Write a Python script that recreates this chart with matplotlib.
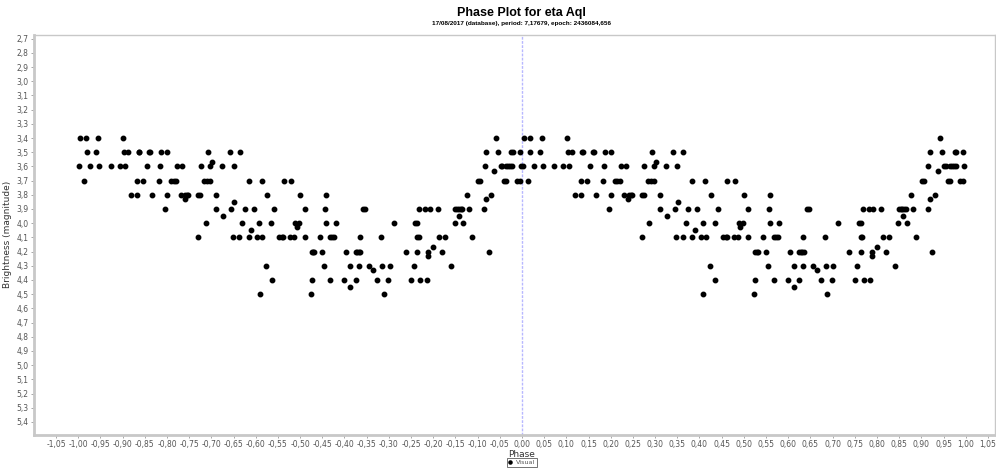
"""
Phase plot for eta Aql (visual observations), folded on the period.
Each observation is drawn twice: at its phase in [-1, 0) and at phase + 1.
"""

import numpy as np
import matplotlib.pyplot as plt
from matplotlib.ticker import FixedLocator, FuncFormatter

TITLE = 'Phase Plot for eta Aql'
SUBTITLE = '17/08/2017 (database), period: 7,17679, epoch: 2436084,656'
SERIES_NAME = 'Visual'

# phases (in [-1, 0)) and magnitudes, grouped by magnitude row
phase_34 = [-0.996, -0.983, -0.956, -0.899, -0.058]
phase_35 = [-0.981, -0.959, -0.896, -0.887, -0.864, -0.862, -0.840, -0.838, -0.813, -0.800,
            -0.707, -0.659, -0.636, -0.080, -0.053, -0.025, -0.021, -0.005]
phase_357 = [-0.699]
phase_36 = [-0.998, -0.973, -0.953, -0.927, -0.907, -0.894, -0.846, -0.815, -0.777, -0.766,
            -0.724, -0.702, -0.676, -0.650, -0.084, -0.048, -0.044, -0.035, -0.031, -0.027,
            -0.023, -0.003]
phase_363 = [-0.063]
phase_37 = [-0.986, -0.867, -0.854, -0.818, -0.790, -0.785, -0.779, -0.716, -0.709, -0.702,
            -0.616, -0.587, -0.537, -0.520, -0.098, -0.095, -0.040, -0.035, -0.012, -0.005]
phase_38 = [-0.881, -0.868, -0.833, -0.800, -0.769, -0.759, -0.755, -0.752, -0.730, -0.726,
            -0.690, -0.575, -0.500, -0.442, -0.123, -0.070]
phase_383 = [-0.760, -0.080]
phase_385 = [-0.648]
phase_39 = [-0.804, -0.690, -0.655, -0.625, -0.605, -0.558, -0.490, -0.443, -0.358, -0.354,
            -0.231, -0.218, -0.208, -0.190, -0.150, -0.146, -0.143, -0.138, -0.135, -0.119,
            -0.086]
phase_395 = [-0.674, -0.142]
phase_40 = [-0.713, -0.630, -0.593, -0.565, -0.512, -0.502, -0.441, -0.420, -0.288, -0.241,
            -0.236, -0.152, -0.132]
phase_403 = [-0.508]
phase_405 = [-0.610]
phase_41 = [-0.730, -0.652, -0.637, -0.616, -0.597, -0.586, -0.547, -0.541, -0.538, -0.523,
            -0.513, -0.490, -0.456, -0.432, -0.428, -0.424, -0.366, -0.317, -0.236, -0.233,
            -0.187, -0.173, -0.113]
phase_417 = [-0.200]
phase_42 = [-0.474, -0.471, -0.468, -0.450, -0.396, -0.375, -0.372, -0.368, -0.364, -0.262,
            -0.236, -0.212, -0.180, -0.075]
phase_423 = [-0.212]
phase_43 = [-0.577, -0.446, -0.387, -0.367, -0.345, -0.315, -0.298, -0.244, -0.160]
phase_433 = [-0.335]
phase_44 = [-0.564, -0.474, -0.432, -0.400, -0.375, -0.326, -0.302, -0.250, -0.230, -0.215]
phase_445 = [-0.387]
phase_45 = [-0.591, -0.476, -0.312]

rows = [
    (3.40, phase_34), (3.50, phase_35), (3.57, phase_357), (3.60, phase_36),
    (3.63, phase_363), (3.70, phase_37), (3.80, phase_38), (3.83, phase_383),
    (3.85, phase_385), (3.90, phase_39), (3.95, phase_395), (4.00, phase_40),
    (4.03, phase_403), (4.05, phase_405), (4.10, phase_41), (4.17, phase_417),
    (4.20, phase_42), (4.23, phase_423), (4.30, phase_43), (4.33, phase_433),
    (4.40, phase_44), (4.45, phase_445), (4.50, phase_45),
]

y_ticks = np.round(np.arange(2.7, 5.41, 0.1), 2)
x_ticks = np.round(np.arange(-1.05, 1.051, 0.05), 2)


def comma_format(decimals):
    return FuncFormatter(lambda v, pos: f'{v:.{decimals}f}'.replace('.', ','))


def main():
    phases = np.concatenate([np.array(p) for m, p in rows])
    mags = np.concatenate([np.full(len(p), m) for m, p in rows])

    fig = plt.figure(figsize=(9.96, 4.70), dpi=100)
    ax = fig.add_axes([0.034, 0.075, 0.965, 0.851])

    ax.axvline(0, color='#b8b8ff', lw=1, ls=(0, (2, 1)), zorder=1)
    ax.plot(phases, mags, 'o', color='black', ms=3.2, ls='none', zorder=3, label=SERIES_NAME)
    ax.plot(phases + 1, mags, 'o', color='black', ms=3.2, ls='none', zorder=3)

    ax.set_xlim(-1.10, 1.066)
    ax.set_ylim(5.49, 2.673)

    ax.xaxis.set_major_locator(FixedLocator(x_ticks))
    ax.yaxis.set_major_locator(FixedLocator(y_ticks))
    ax.xaxis.set_major_formatter(comma_format(2))
    ax.yaxis.set_major_formatter(comma_format(1))
    ax.tick_params(labelsize=5.5, labelcolor='#555555', color='#999999',
                   length=2, width=0.6, pad=2)

    for side in ax.spines.values():
        side.set_color('#c8c8c8')
        side.set_linewidth(1.0)
    ax.spines['left'].set_linewidth(2.0)
    ax.spines['bottom'].set_linewidth(2.0)

    # the chart centres its titles, axis label and legend on the plot area
    centre = 0.524
    ax.set_xlabel('Phase', fontsize=6.5, color='#333333', labelpad=1)
    ax.xaxis.set_label_coords((centre - 0.034) / 0.965, -0.038)
    ax.set_ylabel('Brightness (magnitude)', fontsize=6.5, color='#333333', labelpad=3)

    fig.text(centre, 0.985, TITLE, ha='center', va='top', fontsize=9, fontweight='bold',
             fontstretch='condensed', family=['Liberation Sans', 'DejaVu Sans'])
    fig.text(centre, 0.955, SUBTITLE, ha='center', va='top', fontsize=4.6, fontweight='bold',
             family=['Liberation Sans', 'DejaVu Sans'])

    leg = fig.legend(loc='lower center', bbox_to_anchor=(centre, 0.0), fontsize=4.6,
                     frameon=True, fancybox=False, edgecolor='#333333',
                     handlelength=0.5, handletextpad=0.6, borderpad=0.3, markerscale=0.7)
    leg.get_frame().set_linewidth(0.6)
    for t in leg.get_texts():
        t.set_color('#555555')

    fig.savefig('out.png', dpi=100)


if __name__ == '__main__':
    main()
